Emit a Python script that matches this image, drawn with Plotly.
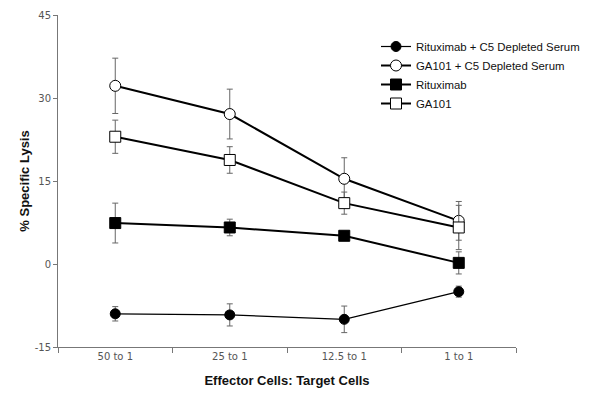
import plotly.graph_objects as go

categories = ["50 to 1", "25 to 1", "12.5 to 1", "1 to 1"]

ritux_c5 = [-9.0, -9.2, -10.0, -5.0]
ritux_c5_err = [1.3, 2.0, 2.4, 1.0]

ga101_c5 = [32.2, 27.1, 15.4, 7.8]
ga101_c5_err = [5.0, 4.5, 3.8, 3.5]

ritux = [7.4, 6.6, 5.1, 0.2]
ritux_err = [3.6, 1.5, 0.8, 2.0]

ga101 = [23.0, 18.8, 11.0, 6.6]
ga101_err = [3.0, 2.4, 2.0, 4.0]

y_ticks = [-15, 0, 15, 30, 45]
y_ticktext = ["-15", "0", "15", "30", "45"]

series = [
    ("Rituximab + C5 Depleted Serum", ritux_c5, ritux_c5_err, "circle", "black", 1.2, 10),
    ("GA101 + C5 Depleted Serum", ga101_c5, ga101_c5_err, "circle", "white", 2, 11),
    ("Rituximab", ritux, ritux_err, "square", "black", 2, 11),
    ("GA101", ga101, ga101_err, "square", "white", 2, 11),
]

# page has an 8px body margin, so the figure is drawn 8px smaller and offset
W, H = 582, 385
L, T, R, B = 50, 7, 74, 46

fig = go.Figure()
for name, vals, errs, sym, fill, lw, ms in series:
    fig.add_trace(go.Scatter(
        x=categories, y=vals, name=name, mode="lines+markers",
        line=dict(color="black", width=lw),
        marker=dict(symbol=sym, size=ms, color=fill, line=dict(color="black", width=1)),
        error_y=dict(type="data", array=errs, visible=True, color="#666666",
                     thickness=1, width=3),
    ))

plot_w = W - L - R
plot_h = H - T - B
leg_x_px = 368       # legend left in figure px
leg_top_px = 24      # legend top in figure px

fig.update_layout(
    width=W, height=H,
    margin=dict(l=L, r=R, t=T, b=B, autoexpand=False),
    paper_bgcolor="white", plot_bgcolor="white",
    font=dict(family="Liberation Sans, Arial, sans-serif", color="black"),
    showlegend=True,
    legend=dict(x=(leg_x_px - L) / plot_w, y=1 - (leg_top_px - T) / plot_h,
                xanchor="left", yanchor="top",
                font=dict(size=11.4, color="#111111"),
                bgcolor="rgba(0,0,0,0)", itemwidth=30, tracegroupgap=0),
    xaxis=dict(
        type="category", range=[-0.5, 3.5], automargin=False,
        showline=True, linecolor="#777777", linewidth=1,
        ticks="outside", tickson="boundaries", ticklen=5, tickcolor="#777777",
        tickfont=dict(family="DejaVu Sans, Verdana, sans-serif", size=10, color="#555555"),
        showgrid=False, zeroline=False,
        title=dict(text="<b>Effector Cells: Target Cells</b>",
                   font=dict(family="Liberation Sans, Arial, sans-serif", size=13, color="#111111"),
                   standoff=14),
    ),
    yaxis=dict(
        range=[-15, 45], tickvals=y_ticks, ticktext=y_ticktext, automargin=False,
        showline=True, linecolor="#777777", linewidth=1,
        ticks="outside", ticklen=4, tickcolor="#777777",
        tickfont=dict(family="DejaVu Sans, Verdana, sans-serif", size=10, color="#555555"),
        showgrid=False, zeroline=False,
        title=dict(text="<b>% Specific Lysis</b>",
                   font=dict(family="Liberation Sans, Arial, sans-serif", size=13, color="#111111"),
                   standoff=2),
    ),
)

fig.write_html("out.html")
